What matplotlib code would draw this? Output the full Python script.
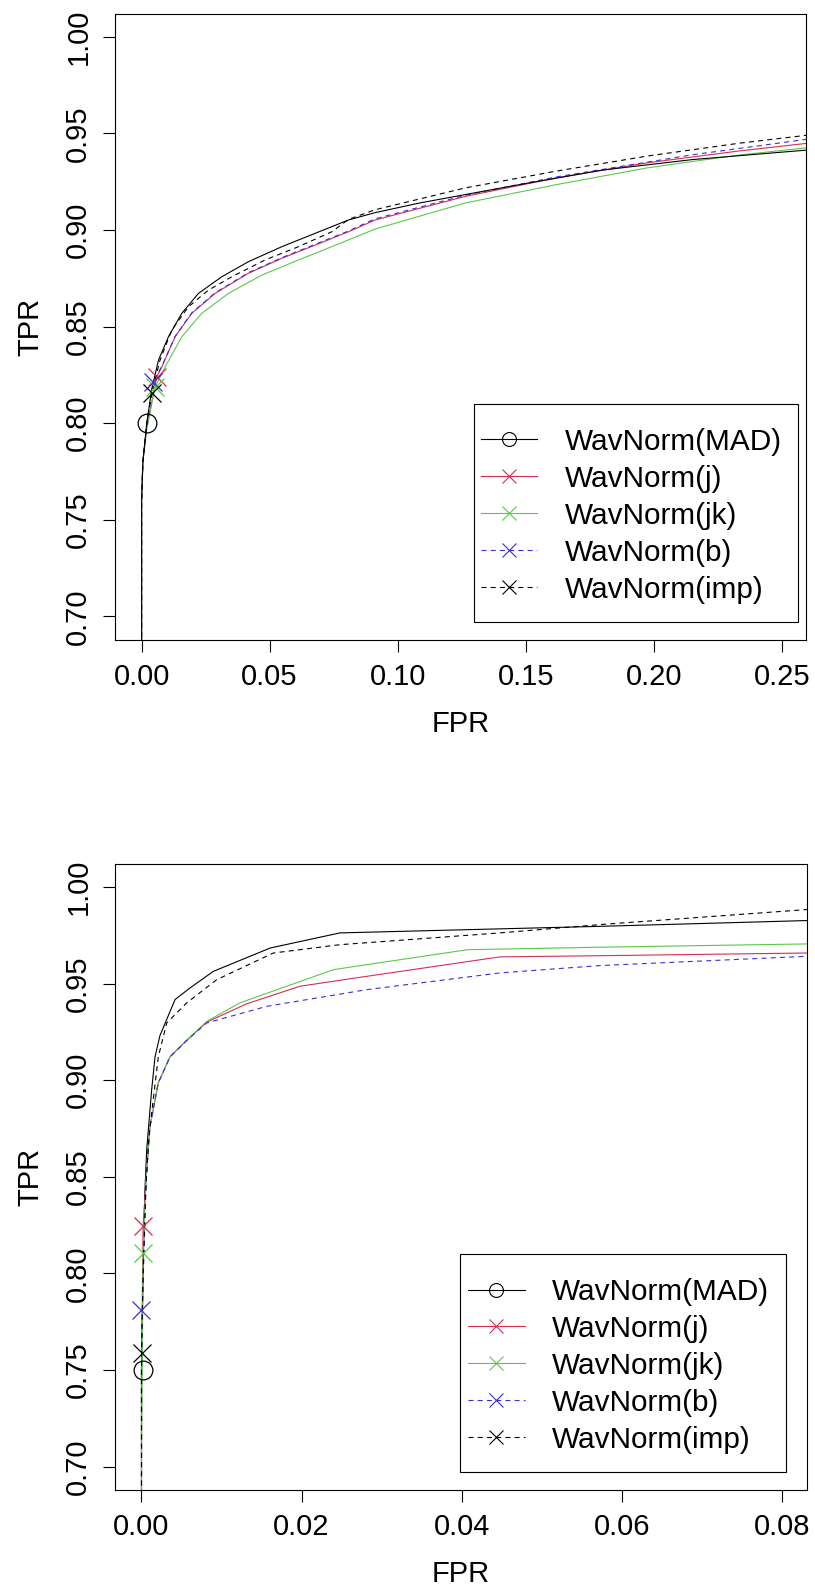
import matplotlib
matplotlib.use("Agg")
import matplotlib.pyplot as plt
from matplotlib.lines import Line2D
from matplotlib.patches import Rectangle

plt.rcParams["font.family"] = ["Liberation Sans", "DejaVu Sans"]

LABELS = ["WavNorm(MAD)", "WavNorm(j)", "WavNorm(jk)", "WavNorm(b)", "WavNorm(imp)"]
COLORS = ["black", "#D62D55", "#5CC84A", "#3C2DDC", "black"]
DASH = (0, (4.5, 3.8))
STYLES = ["-", "-", "-", DASH, DASH]
MARKERS = ["o", "x", "x", "x", "x"]

Y_TICKS = [0.70, 0.75, 0.80, 0.85, 0.90, 0.95, 1.00]
TOP_X_TICKS = [0.00, 0.05, 0.10, 0.15, 0.20, 0.25]
BOT_X_TICKS = [0.00, 0.02, 0.04, 0.06, 0.08]

# ---- top panel (wide FPR range) ----
TOP_MAD_FPR = [0.0, 0.0, 0.0005, 0.002, 0.004, 0.0066, 0.0105, 0.0157, 0.0222, 0.0313, 0.0417, 0.0548, 0.0678, 0.0808, 0.0912, 0.1086, 0.1442, 0.1798, 0.2154, 0.2600]
TOP_MAD_TPR = [0.0, 0.760, 0.780, 0.800, 0.818, 0.8327, 0.8448, 0.8569, 0.8672, 0.8758, 0.8836, 0.8914, 0.8983, 0.9052, 0.9090, 0.9140, 0.9227, 0.9310, 0.9365, 0.9414]

TOP_J_FPR = [0.0, 0.0, 0.0005, 0.002, 0.0059, 0.0079, 0.0131, 0.0196, 0.0287, 0.0417, 0.0548, 0.0678, 0.0808, 0.0912, 0.1264, 0.1620, 0.1976, 0.2332, 0.2600]
TOP_J_TPR = [0.0, 0.760, 0.780, 0.798, 0.824, 0.8292, 0.8448, 0.8569, 0.8672, 0.8776, 0.8854, 0.8922, 0.8991, 0.9052, 0.9174, 0.9270, 0.9348, 0.9409, 0.9449]

TOP_JK_FPR = [0.0, 0.0, 0.0005, 0.002, 0.0053, 0.0092, 0.0157, 0.0235, 0.0339, 0.0470, 0.0613, 0.0743, 0.0912, 0.1264, 0.1620, 0.1976, 0.2332, 0.2600]
TOP_JK_TPR = [0.0, 0.760, 0.780, 0.797, 0.819, 0.8292, 0.8448, 0.8569, 0.8672, 0.8767, 0.8845, 0.8914, 0.9005, 0.9140, 0.9235, 0.9322, 0.9388, 0.9426]

TOP_B_FPR = [0.0, 0.0, 0.0005, 0.002, 0.0046, 0.0079, 0.0131, 0.0196, 0.0287, 0.0417, 0.0548, 0.0678, 0.0808, 0.0912, 0.1264, 0.1620, 0.2154, 0.2600]
TOP_B_TPR = [0.0, 0.760, 0.780, 0.798, 0.8215, 0.8295, 0.8450, 0.8571, 0.8675, 0.8779, 0.8857, 0.8926, 0.8995, 0.9058, 0.9180, 0.9275, 0.9390, 0.9470]

TOP_IMP_FPR = [0.0, 0.0, 0.0005, 0.002, 0.004, 0.0072, 0.0118, 0.0183, 0.0261, 0.0352, 0.0482, 0.0613, 0.0743, 0.0808, 0.0912, 0.1264, 0.1620, 0.1976, 0.2332, 0.2600]
TOP_IMP_TPR = [0.0, 0.760, 0.780, 0.800, 0.8155, 0.8327, 0.8483, 0.8603, 0.8689, 0.8758, 0.8845, 0.8914, 0.8991, 0.9055, 0.9105, 0.9218, 0.9305, 0.9383, 0.9449, 0.9491]

# operating points (MAD, j, jk, b, imp)
TOP_PT_FPR = [0.002, 0.0059, 0.0053, 0.0046, 0.004]
TOP_PT_TPR = [0.800, 0.824, 0.819, 0.8215, 0.8155]

# ---- bottom panel (zoomed FPR range) ----
BOT_MAD_FPR = [0.0, 0.0, 0.0002, 0.0004, 0.00065, 0.00127, 0.00169, 0.0023, 0.00419, 0.00606, 0.00898, 0.0161, 0.0248, 0.0448, 0.0573, 0.0832]
BOT_MAD_TPR = [0.0, 0.750, 0.800, 0.840, 0.864, 0.895, 0.912, 0.923, 0.9417, 0.9477, 0.9563, 0.9684, 0.9762, 0.9783, 0.9796, 0.9826]

BOT_J_FPR = [0.0, 0.0, 0.0002, 0.0006, 0.00106, 0.0021, 0.00356, 0.00565, 0.00815, 0.01315, 0.0198, 0.0281, 0.0448, 0.0573, 0.0832]
BOT_J_TPR = [0.0, 0.750, 0.8243, 0.850, 0.876, 0.8986, 0.912, 0.9205, 0.930, 0.9395, 0.9486, 0.9537, 0.9638, 0.9644, 0.9658]

BOT_JK_FPR = [0.0, 0.0, 0.0002, 0.0006, 0.00106, 0.0021, 0.00356, 0.00565, 0.00815, 0.0123, 0.024, 0.0407, 0.0573, 0.0832]
BOT_JK_TPR = [0.0, 0.700, 0.8106, 0.850, 0.8761, 0.8986, 0.9123, 0.9208, 0.9304, 0.940, 0.9572, 0.9675, 0.9688, 0.9705]

BOT_B_FPR = [0.0, 0.0, 0.0001, 0.0006, 0.00106, 0.0021, 0.00356, 0.00565, 0.00815, 0.01565, 0.0281, 0.0448, 0.0573, 0.0832]
BOT_B_TPR = [0.0, 0.750, 0.7812, 0.850, 0.876, 0.8986, 0.912, 0.9205, 0.9296, 0.9382, 0.9468, 0.9555, 0.9593, 0.9641]

BOT_IMP_FPR = [0.0, 0.0, 0.0002, 0.0005, 0.0009, 0.0021, 0.00315, 0.00565, 0.0094, 0.01648, 0.0248, 0.0448, 0.0573, 0.0832]
BOT_IMP_TPR = [0.0, 0.757, 0.800, 0.840, 0.870, 0.912, 0.9296, 0.940, 0.952, 0.9658, 0.9701, 0.9762, 0.9805, 0.9883]

BOT_PT_FPR = [0.0002, 0.0002, 0.0002, 0.0, 0.0001]
BOT_PT_TPR = [0.750, 0.8243, 0.8106, 0.7812, 0.7588]

FS = 21
LW = 0.8


def draw_panel(ax, curves, pts_fpr, pts_tpr, xlim, xticks, legend_box,
               legend_anchor, mad_on_top=False):
    for i, ((fpr, tpr), col, ls) in enumerate(zip(curves, COLORS, STYLES)):
        z = 2.2 if (i == 0 and mad_on_top) else 2
        ax.plot(fpr, tpr, color=col, linestyle=ls, lw=LW, zorder=z)
    for x, y, col, m in zip(pts_fpr, pts_tpr, COLORS, MARKERS):
        ax.plot([x], [y], linestyle="none", marker=m, ms=13.5, mfc="none",
                mec=col, mew=0.9, zorder=3)

    ax.set_xlim(*xlim)
    ax.set_ylim(0.688, 1.012)
    ax.set_xticks(xticks)
    ax.set_xticklabels([f"{t:.2f}" for t in xticks])
    ax.set_yticks(Y_TICKS)
    ax.set_yticklabels([f"{t:.2f}" for t in Y_TICKS], rotation=90, va="center")
    ax.tick_params(axis="both", direction="out", length=8.5, width=LW,
                   labelsize=FS)
    ax.tick_params(axis="x", pad=8)
    ax.tick_params(axis="y", pad=8.2)
    for sp in ax.spines.values():
        sp.set_linewidth(LW)

    ax.set_xlabel("FPR", fontsize=FS)
    ax.set_ylabel("TPR", fontsize=FS)
    ax.xaxis.set_label_coords(0.5, -0.1126)
    ax.yaxis.set_label_coords(-0.1035, 0.5)

    handles = [
        Line2D([], [], color=c, linestyle=s, lw=LW, marker=m, ms=10,
               mfc="none", mec=c, mew=0.8)
        for c, s, m in zip(COLORS, STYLES, MARKERS)
    ]
    ax.legend(handles, LABELS, loc="center left", bbox_to_anchor=legend_anchor,
              frameon=False, borderpad=0, borderaxespad=0, fontsize=21.4,
              handlelength=1.9, handletextpad=0.93, labelspacing=0.30)
    x0, y0, w, h = legend_box
    ax.add_patch(Rectangle((x0, y0), w, h, transform=ax.transAxes, fill=False,
                           ec="black", lw=LW, clip_on=False, zorder=5))


fig = plt.figure(figsize=(8.15, 15.86), dpi=100)

ax_top = fig.add_axes([0.1417, 0.5967, 0.8476, 0.3947])
draw_panel(
    ax_top,
    [(TOP_MAD_FPR, TOP_MAD_TPR), (TOP_J_FPR, TOP_J_TPR), (TOP_JK_FPR, TOP_JK_TPR),
     (TOP_B_FPR, TOP_B_TPR), (TOP_IMP_FPR, TOP_IMP_TPR)],
    TOP_PT_FPR, TOP_PT_TPR,
    (-0.0102, 0.2596), TOP_X_TICKS,
    (0.5185, 0.0287, 0.4691, 0.3482), (0.529, 0.198),
    mad_on_top=True,
)

ax_bot = fig.add_axes([0.1417, 0.0607, 0.8479, 0.3947])
draw_panel(
    ax_bot,
    [(BOT_MAD_FPR, BOT_MAD_TPR), (BOT_J_FPR, BOT_J_TPR), (BOT_JK_FPR, BOT_JK_TPR),
     (BOT_B_FPR, BOT_B_TPR), (BOT_IMP_FPR, BOT_IMP_TPR)],
    BOT_PT_FPR, BOT_PT_TPR,
    (-0.00325, 0.0831), BOT_X_TICKS,
    (0.4987, 0.028, 0.4715, 0.3486), (0.5103, 0.198),
)

fig.savefig("out.png", dpi=100)
